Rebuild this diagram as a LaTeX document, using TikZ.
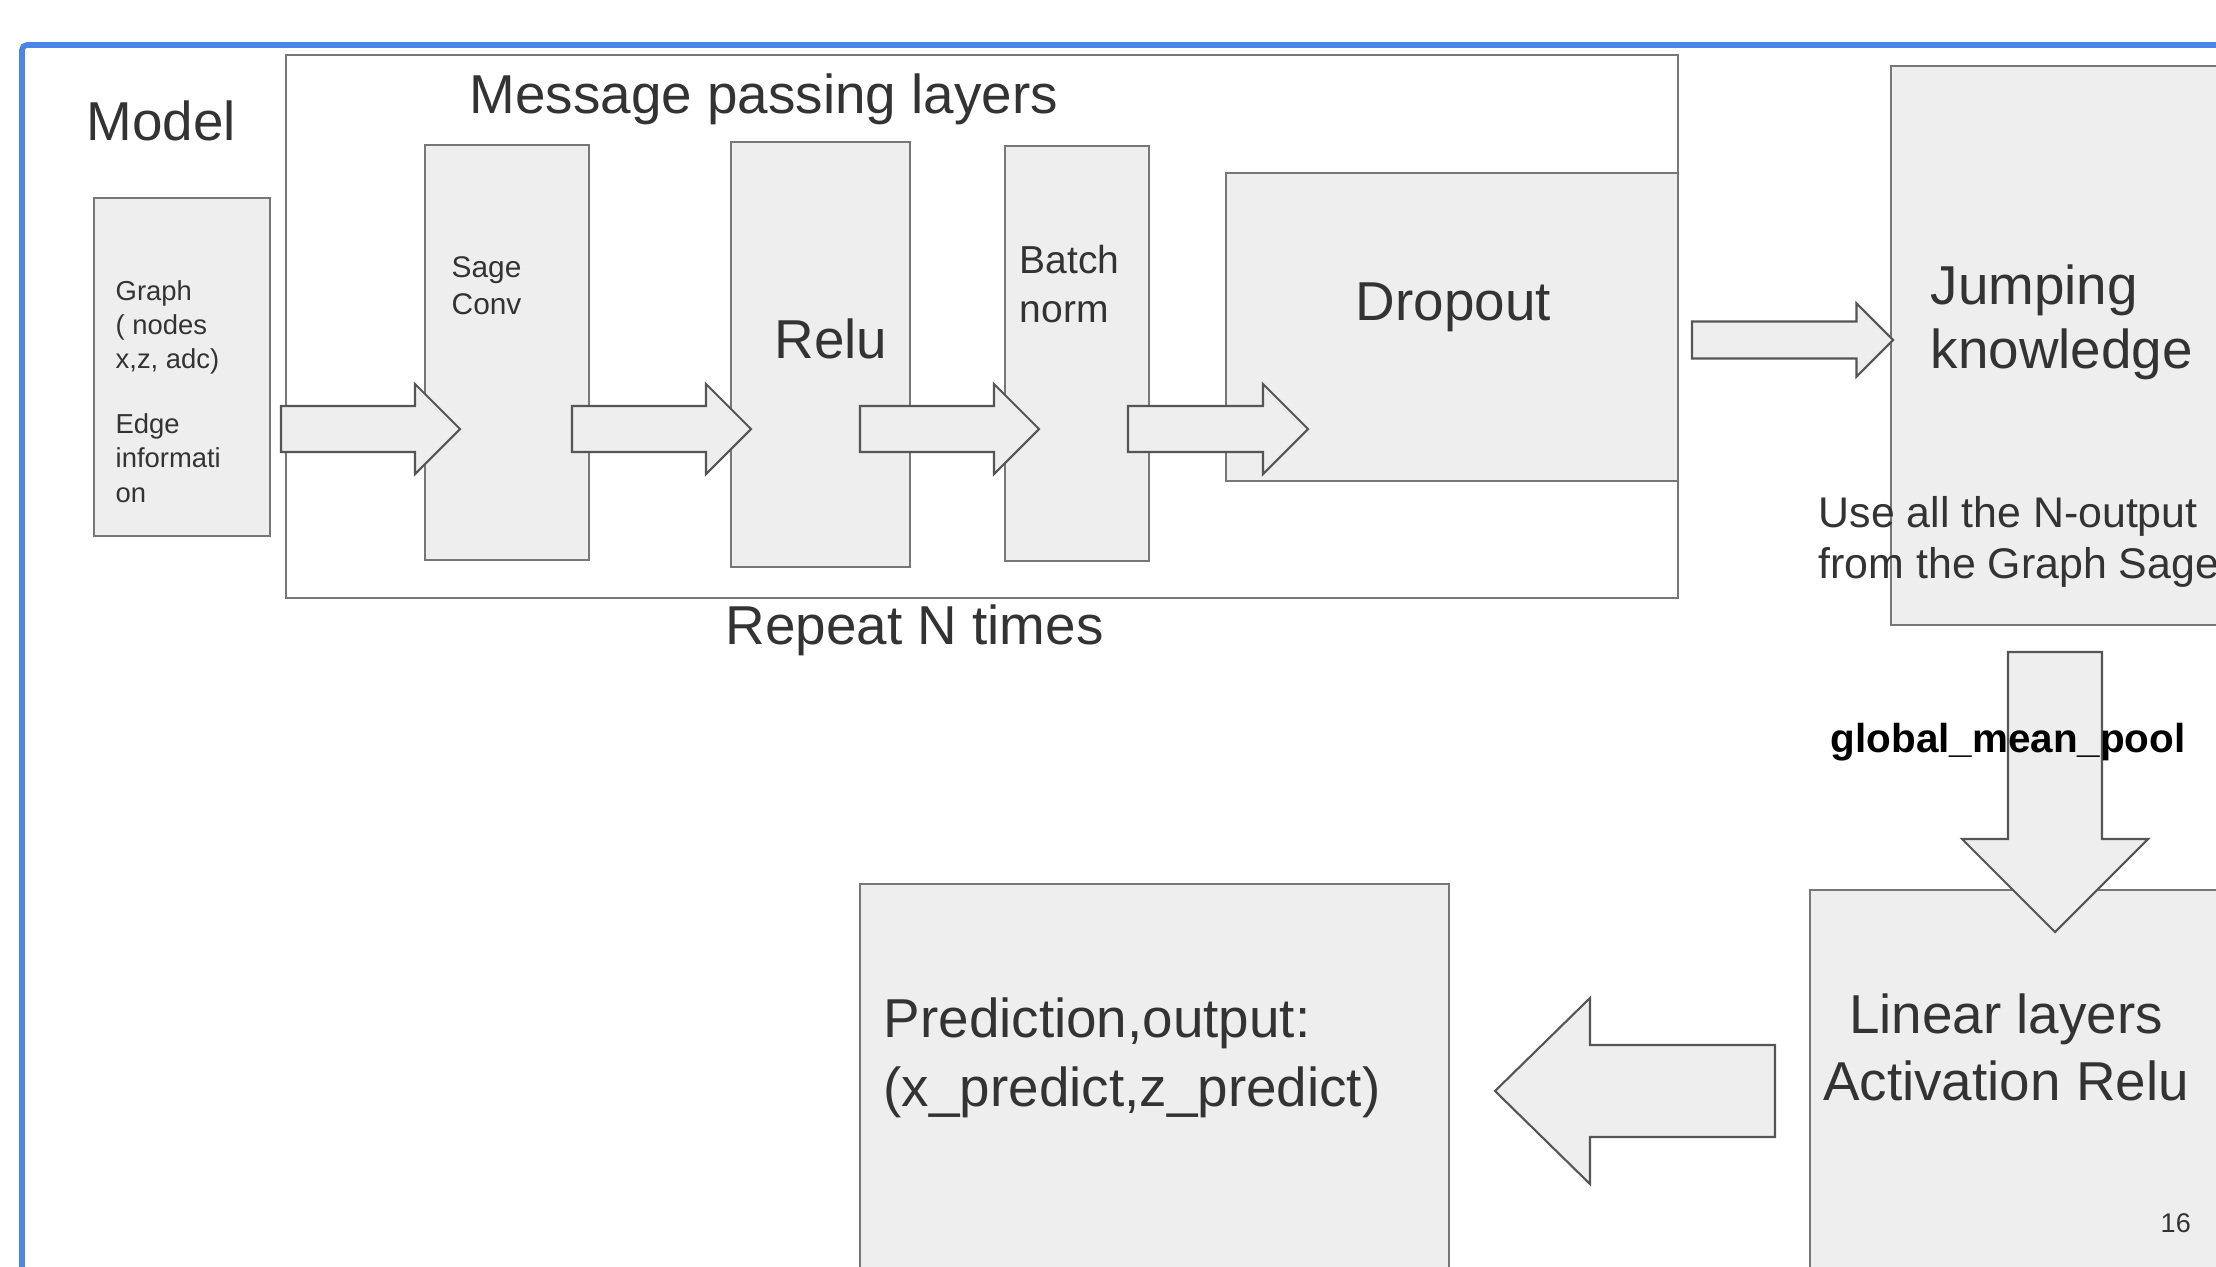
\documentclass[tikz,border=0pt]{standalone}
\usepackage{fontspec}
\setmainfont{Liberation Sans}
\definecolor{boxfill}{HTML}{EEEEEE}
\definecolor{boxline}{HTML}{777777}
\definecolor{arrline}{HTML}{555555}
\definecolor{txtgray}{HTML}{333333}
\definecolor{slideblue}{HTML}{4A86E8}

\begin{document}
\begin{tikzpicture}[
  box/.style={draw=boxline,fill=boxfill,line width=0.75pt,rectangle,
    inner sep=0pt,outer sep=0pt,anchor=north west},
  fat/.style={draw=arrline,fill=boxfill,line width=0.6pt,line join=miter},
  txt/.style={text=txtgray,inner sep=0pt,anchor=base west,align=left},
  big/.style={font=\fontsize{15.6}{18.2}\selectfont}
]
  \useasboundingbox (0,0) rectangle (22.16,-12.67);
  \clip (0,0) rectangle (22.16,-12.67);

  % slide frame
  \draw[slideblue,line width=1.6pt,rounded corners=0.05cm]
    (0.22,-13) |- (23,-0.45);

  % message passing block
  \node[box,fill=white,minimum width=13.92cm,minimum height=5.43cm]
    (mp-layers) at (2.86,-0.55) {};
  \node[box,minimum width=1.76cm,minimum height=3.38cm]
    (graph-in) at (0.94,-1.98) {};
  \node[box,minimum width=1.64cm,minimum height=4.15cm]
    (sage-conv) at (4.25,-1.45) {};
  \node[box,minimum width=1.79cm,minimum height=4.25cm]
    (relu) at (7.31,-1.42) {};
  \node[box,minimum width=1.44cm,minimum height=4.15cm]
    (batch-norm) at (10.05,-1.46) {};
  \node[box,minimum width=4.52cm,minimum height=3.08cm]
    (dropout) at (12.26,-1.73) {};

  % read-out part
  \node[box,minimum width=4cm,minimum height=5.59cm]
    (jump-know) at (18.91,-0.66) {};
  \node[box,minimum width=5cm,minimum height=5cm]
    (lin-relu) at (18.10,-8.90) {};
  \node[box,minimum width=5.89cm,minimum height=5cm]
    (pred-out) at (8.60,-8.84) {};

  % block arrows (tail at the shift point)
  \draw[fat,shift={(2.81,-4.29)}]
    (0,0.23) -- (1.34,0.23) -- (1.34,0.45) -- (1.79,0) -- (1.34,-0.45)
    -- (1.34,-0.23) -- (0,-0.23) -- cycle;
  \draw[fat,shift={(5.72,-4.29)}]
    (0,0.23) -- (1.34,0.23) -- (1.34,0.45) -- (1.79,0) -- (1.34,-0.45)
    -- (1.34,-0.23) -- (0,-0.23) -- cycle;
  \draw[fat,shift={(8.60,-4.29)}]
    (0,0.23) -- (1.34,0.23) -- (1.34,0.45) -- (1.79,0) -- (1.34,-0.45)
    -- (1.34,-0.23) -- (0,-0.23) -- cycle;
  \draw[fat,shift={(11.28,-4.29)}]
    (0,0.23) -- (1.35,0.23) -- (1.35,0.45) -- (1.80,0) -- (1.35,-0.45)
    -- (1.35,-0.23) -- (0,-0.23) -- cycle;
  \draw[fat,shift={(16.92,-3.40)}]
    (0,0.185) -- (1.645,0.185) -- (1.645,0.365) -- (2.01,0) -- (1.645,-0.365)
    -- (1.645,-0.185) -- (0,-0.185) -- cycle;
  \draw[fat,shift={(20.55,-6.52)},rotate=-90]
    (0,0.47) -- (1.87,0.47) -- (1.87,0.93) -- (2.80,0) -- (1.87,-0.93)
    -- (1.87,-0.47) -- (0,-0.47) -- cycle;
  \draw[fat,shift={(17.75,-10.91)},rotate=180]
    (0,0.46) -- (1.85,0.46) -- (1.85,0.93) -- (2.80,0) -- (1.85,-0.93)
    -- (1.85,-0.46) -- (0,-0.46) -- cycle;

  % texts (multi-line nodes sit on their last baseline)
  \node[txt,big] (model-lbl) at (0.86,-1.40) {Model};
  \node[txt,big] (mp-lbl) at (4.69,-1.13) {Message passing layers};
  \node[txt,font=\fontsize{7.8}{9.7}\selectfont] (graph-lbl) at (1.15,-5.02)
    {Graph\\( nodes\\x,z, adc)\\[0.31cm]Edge\\informati\\on};
  \node[txt,font=\fontsize{8.5}{10.5}\selectfont] (sage-lbl) at (4.51,-3.14)
    {Sage\\Conv};
  \node[txt,big] (relu-lbl) at (7.74,-3.58) {Relu};
  \node[txt,font=\fontsize{11.1}{13.7}\selectfont] (batch-lbl) at (10.19,-3.22)
    {Batch\\norm};
  \node[txt,big] (drop-lbl) at (13.55,-3.20) {Dropout};
  \node[txt,big] (repeat-lbl) at (7.25,-6.44) {Repeat N times};
  \node[txt,big] (jump-lbl) at (19.30,-3.68) {Jumping\\knowledge};
  \node[txt,font=\fontsize{12.2}{14.5}\selectfont] (use-lbl) at (18.18,-5.78)
    {Use all the N-output\\from the Graph Sage};
  \node[txt,text=black,font=\fontsize{11.5}{14}\selectfont\bfseries]
    (pool-lbl) at (18.30,-7.52) {global\_mean\_pool};
  \node[txt,anchor=base,align=center,font=\fontsize{15.6}{18.8}\selectfont]
    (lin-lbl) at (20.06,-11.00) {Linear layers\\Activation Relu};
  \node[txt,font=\fontsize{15.6}{19.6}\selectfont] (pred-lbl) at (8.83,-11.06)
    {Prediction,output:\\(x\_predict,z\_predict)};
  \node[txt,font=\fontsize{7.7}{9}\selectfont] (page-no) at (21.60,-12.32) {16};
\end{tikzpicture}
\end{document}
